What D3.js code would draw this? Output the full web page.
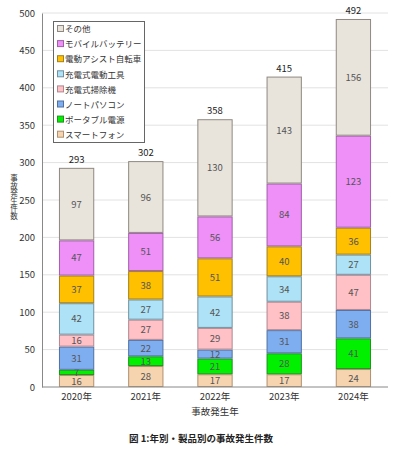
<!DOCTYPE html>
<html><head><meta charset="utf-8">
<script src="https://cdn.jsdelivr.net/npm/d3@7"></script>
<style>body{margin:0;background:#fff;}svg{display:block;font-family:"Noto Sans CJK JP","Noto Sans",sans-serif;}</style>
</head><body>
<script>
const years = ["2020年","2021年","2022年","2023年","2024年"];
const categories = ["スマートフォン","ポータブル電源","ノートパソコン","充電式掃除機","充電式電動工具","電動アシスト自転車","モバイルバッテリー","その他"];
const colors = ["#F6D4B0","#00F000","#7FAEF0","#FFC0C6","#AEE2F6","#FFC000","#EE90F8","#E8E4DC"];
const strokes = ["#B09070","#209020","#5070A0","#B08890","#7090A0","#A08020","#A060A8","#908880"];
const smartphone = [16,28,17,17,24];
const portable = [7,13,21,28,41];
const notebook = [31,22,12,31,38];
const vacuum = [16,27,29,38,47];
const powertool = [42,27,42,34,27];
const ebike = [37,38,51,40,36];
const mobilebattery = [47,51,56,84,123];
const other = [97,96,130,143,156];
const totals = [293,302,358,415,492];
const yTicks = [0,50,100,150,200,250,300,350,400,450,500];
const yTitle = "事故発生件数";

const series = [smartphone,portable,notebook,vacuum,powertool,ebike,mobilebattery,other];
const W=398,H=450;
const svg=d3.select("body").append("svg").attr("width",W).attr("height",H);
const x=d3.scaleBand().domain(years).range([42,388]).paddingInner(0.49).paddingOuter(0.245);
const y=d3.scaleLinear().domain([0,500]).range([387,13]);

// grid
svg.append("g").selectAll("line").data(yTicks.filter(d=>d>0)).join("line")
 .attr("x1",42).attr("x2",388).attr("y1",d=>y(d)).attr("y2",d=>y(d))
 .attr("stroke","#e2e2e2").attr("stroke-width",1);

// stacks
const rows = years.map((yr,i)=>{const o={year:yr};categories.forEach((c,k)=>o[c]=series[k][i]);return o;});
const stack=d3.stack().keys(categories)(rows);
const g=svg.append("g");
stack.forEach((s,k)=>{
  const gg=g.append("g");
  gg.selectAll("rect").data(s).join("rect")
   .attr("x",d=>x(d.data.year)+0.5).attr("width",x.bandwidth()-1)
   .attr("y",d=>y(d[1])+0.5).attr("height",d=>y(d[0])-y(d[1])-1)
   .attr("fill",colors[k]).attr("stroke",strokes[k]).attr("stroke-width",1);
  gg.selectAll("text").data(s).join("text")
   .attr("x",d=>x(d.data.year)+x.bandwidth()/2).attr("y",d=>(y(d[0])+y(d[1]))/2+3.5)
   .attr("text-anchor","middle").attr("font-size",9.5).attr("fill","#555")
   .text(d=>d[1]-d[0]);
});
// totals
svg.append("g").selectAll("text").data(years).join("text")
 .attr("x",d=>x(d)+x.bandwidth()/2).attr("y",(d,i)=>y(totals[i])-5)
 .attr("text-anchor","middle").attr("font-size",9.5).attr("fill","#222").text((d,i)=>totals[i]);

// axes
const ya=svg.append("g").attr("transform","translate(42,0)").call(d3.axisLeft(y).tickValues(yTicks).tickSize(0).tickPadding(7));
ya.select(".domain").attr("stroke","#888");
ya.selectAll("text").attr("font-size",9.5).attr("fill","#333").attr("font-family","Noto Sans CJK JP");
const xa=svg.append("g").attr("transform","translate(0,387)").call(d3.axisBottom(x).tickSize(0).tickPadding(6));
xa.select(".domain").attr("stroke","#888").attr("d","M42,0H388");
xa.selectAll("text").attr("font-size",9.5).attr("fill","#333").attr("font-family","Noto Sans CJK JP");

// axis titles
svg.append("text").attr("x",14).attr("y",197).attr("text-anchor","middle")
 .style("writing-mode","vertical-rl").style("text-orientation","upright")
 .attr("font-size",7.5).attr("fill","#333").text(yTitle);
svg.append("text").attr("x",215).attr("y",415).attr("text-anchor","middle").attr("font-size",9.5).attr("fill","#333").text("事故発生年");
svg.append("text").attr("x",201).attr("y",442).attr("text-anchor","middle").attr("font-size",9.5).attr("font-weight","bold").attr("fill","#222").text("図 1:年別・製品別の事故発生件数");

// legend
const lg=svg.append("g");
lg.append("rect").attr("x",53.5).attr("y",21.5).attr("width",91).attr("height",121).attr("fill","#fff").attr("stroke","#666");
const order=categories.map((c,k)=>k).reverse();
order.forEach((k,i)=>{
  const yy=29+i*15.1;
  lg.append("rect").attr("x",57.5).attr("y",yy-3.5).attr("width",6).attr("height",6).attr("fill",colors[k]).attr("stroke",strokes[k]);
  lg.append("text").attr("x",65).attr("y",yy+3.2).attr("font-size",8.5).attr("fill","#333").text(categories[k]);
});
</script>
</body></html>
